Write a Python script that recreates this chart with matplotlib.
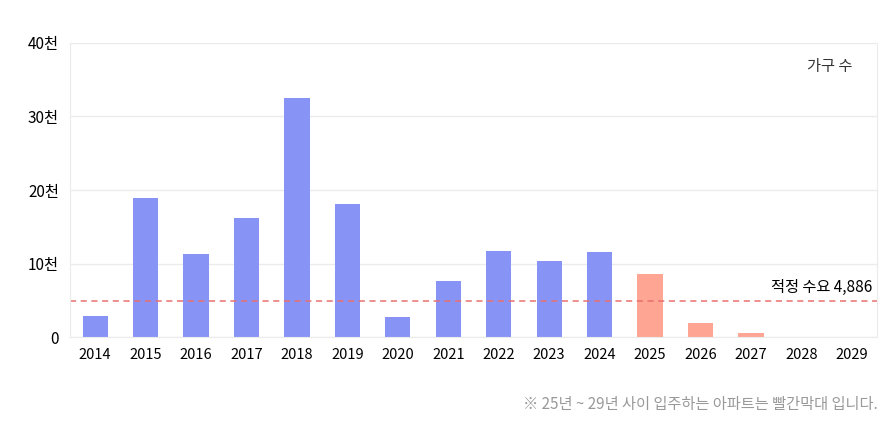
import matplotlib
matplotlib.use("Agg")
import matplotlib.pyplot as plt

plt.rcParams['font.family'] = ['Noto Sans CJK KR', 'DejaVu Sans']

years = [str(y) for y in range(2014, 2030)]
values = [2900, 18900, 11300, 16200, 32500, 18100, 2700, 7600, 11700, 10300, 11500, 8600, 1900, 600, 0, 0]
future_years = {"2025", "2026", "2027", "2028", "2029"}
demand = 4886
yticks = [0, 10000, 20000, 30000, 40000]
ylabels = ["0", "10천", "20천", "30천", "40천"]

fig = plt.figure(figsize=(8.89, 4.21), dpi=100)
ax = fig.add_axes([70/889, (421-337)/421, (877-70)/889, (337-43)/421])
colors = ["#fea593" if y in future_years else "#8893f6" for y in years]
ax.bar(range(len(years)), values, width=0.5, color=colors)
ax.set_xlim(-0.5, len(years)-0.5)
ax.set_ylim(0, 40000)
ax.set_yticks(yticks)
ax.set_yticklabels(ylabels, fontsize=11)
ax.set_xticks(range(len(years)))
ax.set_xticklabels(years, fontsize=10.5)
ax.tick_params(length=0, pad=8)
ax.grid(axis='y', color='#ebebeb', lw=1)
ax.set_axisbelow(True)
for s in ax.spines.values():
    s.set_color('#ebebeb')
ax.axhline(demand, color='#e87070', ls=(0, (4, 3)), lw=1.1)
ax.text(len(years)-0.6, demand+700, f"적정 수요 {demand:,}", ha='right', va='bottom', fontsize=11)
ax.text(0.97, 0.95, "가구 수", transform=ax.transAxes, ha='right', va='top', fontsize=11, color='#333333')
fig.text(878/889, 1-404/421, "※ 25년 ~ 29년 사이 입주하는 아파트는 빨간막대 입니다.", ha='right', va='center', fontsize=11, color='#999999')
fig.savefig("out.png", dpi=100)
